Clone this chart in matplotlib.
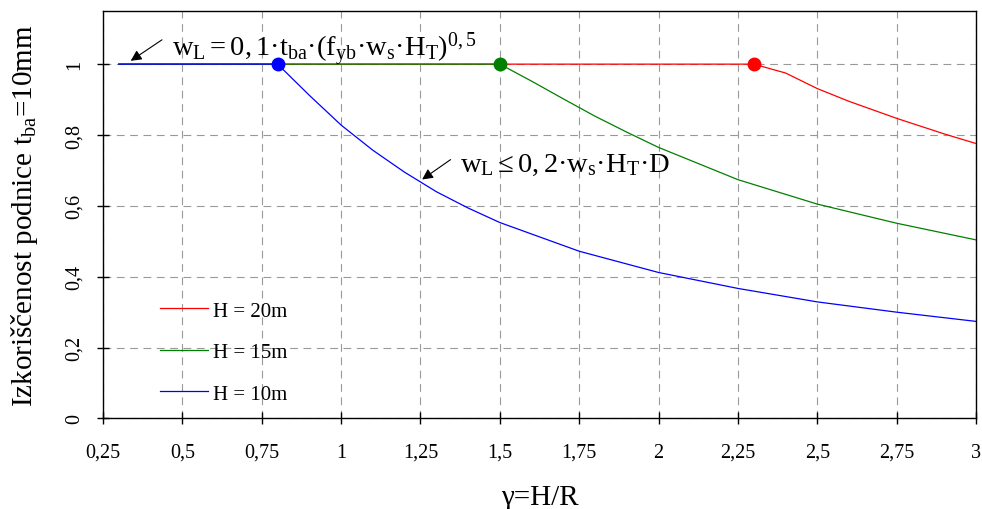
import matplotlib.pyplot as plt

plt.rcParams['font.family'] = 'Liberation Serif'
plt.rcParams['mathtext.fontset'] = 'custom'
plt.rcParams['mathtext.rm'] = 'Liberation Serif'
plt.rcParams['mathtext.it'] = 'Liberation Serif:italic'
plt.rcParams['mathtext.bf'] = 'Liberation Serif:bold'

## H = 10m
x_h10 = [0.3, 0.8, 0.9, 1.0, 1.1, 1.2, 1.3, 1.4, 1.5, 1.75, 2.0, 2.25, 2.5, 2.75, 3.0]
y_h10 = [1.0, 1.0, 0.912, 0.828, 0.757, 0.695, 0.640, 0.594, 0.553, 0.472, 0.412, 0.367, 0.329, 0.30, 0.274]
## H = 15m
x_h15 = [0.3, 1.5, 1.6, 1.7, 1.8, 1.9, 2.0, 2.25, 2.5, 2.75, 3.0]
y_h15 = [1.0, 1.0, 0.952, 0.902, 0.853, 0.808, 0.765, 0.674, 0.605, 0.551, 0.504]
## H = 20m
x_h20 = [0.3, 2.3, 2.4, 2.5, 2.6, 2.75, 2.9, 3.0]
y_h20 = [1.0, 1.0, 0.975, 0.931, 0.895, 0.847, 0.803, 0.776]

## limit points (where the curves leave 1)
x_lim = [0.8, 1.5, 2.3]
y_lim = [1.0, 1.0, 1.0]
lim_colors = ['#0000ff', '#008000', '#ff0000']

x_ticks = [0.25, 0.5, 0.75, 1, 1.25, 1.5, 1.75, 2, 2.25, 2.5, 2.75, 3]
x_labels = ['0,25', '0,5', '0,75', '1', '1,25', '1,5', '1,75', '2', '2,25', '2,5', '2,75', '3']
y_ticks = [0, 0.2, 0.4, 0.6, 0.8, 1.0]
y_labels = ['0', '0,2', '0,4', '0,6', '0,8', '1']

fig = plt.figure(figsize=(9.82, 5.1), dpi=100)
ax = fig.add_axes([0.1049, 0.1775, 0.889, 0.799])

ax.plot(x_h20, y_h20, color='#ff0000', lw=0.9, label='H = 20m', zorder=3)
ax.plot(x_h15, y_h15, color='#008000', lw=0.9, label='H = 15m', zorder=3)
ax.plot(x_h10, y_h10, color='#0000ff', lw=0.9, label='H = 10m', zorder=3)
for xl, yl, c in zip(x_lim, y_lim, lim_colors):
    ax.plot(xl, yl, 'o', color=c, markersize=9, zorder=4)

ax.set_xlim(0.25, 3)
ax.set_ylim(0, 1.15)
ax.set_xticks(x_ticks)
ax.set_xticklabels(x_labels, fontsize=14.5)
ax.set_yticks(y_ticks)
ax.set_yticklabels(y_labels, fontsize=14.5, rotation=90, va='center')
ax.tick_params(axis='x', direction='inout', length=9, width=1, pad=13)
ax.tick_params(axis='y', direction='inout', length=9, width=1, pad=9)
ax.grid(True, color='#999999', lw=0.8, linestyle=(0, (7, 5)))
for s in ax.spines.values():
    s.set_linewidth(1)

ax.set_xlabel('γ=H/R', fontsize=21, labelpad=16)
ax.set_ylabel(r'Izkoriščenost podnice t$_{\mathrm{ba}}$=10mm', fontsize=21, labelpad=18)

# formula labels with arrows
ax.annotate('', xy=(0.33, 1.005), xytext=(0.443, 1.073),
            arrowprops=dict(arrowstyle='-|>', color='black', lw=0.8, mutation_scale=16))
ax.text(0.468, 1.023, r'$\mathrm{w_L=0,1·t_{ba}·(f_{yb}·w_s·H_T)^{0,5}}$',
        fontsize=20.5, va='baseline', ha='left')
ax.annotate('', xy=(1.248, 0.67), xytext=(1.352, 0.735),
            arrowprops=dict(arrowstyle='-|>', color='black', lw=0.8, mutation_scale=16))
ax.text(1.374, 0.698, r'$\mathrm{w_L\leq 0,2·w_s·H_T·D}$',
        fontsize=20.5, va='baseline', ha='left')

ax.legend(loc='upper left', bbox_to_anchor=(0.065, 0.288), frameon=False,
          fontsize=15, handlelength=2.3, handletextpad=0.25, labelspacing=1.05,
          borderpad=0, borderaxespad=0)

plt.savefig('out.png', dpi=100)
